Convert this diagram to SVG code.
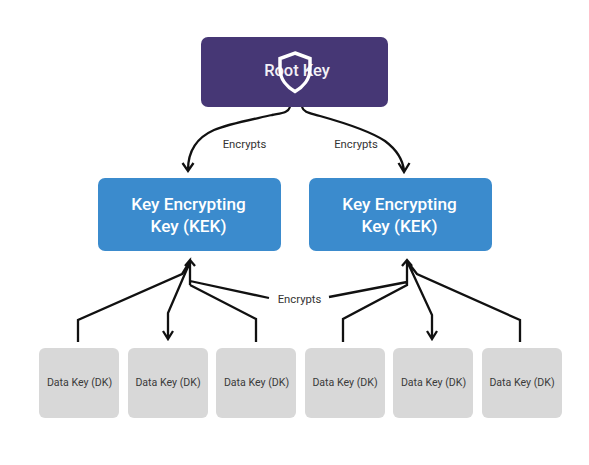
<svg xmlns="http://www.w3.org/2000/svg" width="589" height="465" viewBox="0 0 589 465">
<style>
text{font-family:Roboto,"Liberation Sans",sans-serif;text-anchor:middle}
.kek{fill:#3b8bcd}
.kt{fill:#fff;font-size:17.200px;font-weight:500}
.dk{fill:#d8d8d8}
.dt{fill:#3a3a3a;font-size:10.600px}
.c{fill:none;stroke:#111;stroke-width:2.300;stroke-linejoin:miter}
.l{fill:#333;font-size:11.300px}
</style>
<rect width="589" height="465" fill="#fff"/>
<g id="connectors">
<path class="c" d="M290 107C288 113 282 113 272 115C250 120 228 124 214 130C196 138 188 152 188 170M182.500 163L188 171L193.500 163"/>
<path class="c" d="M302 107C304 113 310 113 320 116C345 123 370 131 385 141C397 150 403 160 404 171M398.500 163L404 172L409.500 163"/>
<path class="c" d="M78 342V320L182 274L190 261V285M185 266L190 260L195 266M190 281L269 298M190 285L256 319V342M190 262L168 313V338M163 331L168 339L173 331"/>
<path class="c" d="M343 342V319L407 285V261M402 266L407 260L412 266M407 282L329 297M407 261L432 315V338M427 331L432 339L437 331M407 261L417 274L520 320V342"/>
</g>
<g id="root-key">
<rect x="201" y="37" width="187" height="70" rx="7" fill="#463775"/>
<text x="297" y="75.500" fill="#f2f0f6" font-size="16.500" font-weight="500">Root Key</text>
<path d="M295 53L310 58.500V69C310 79 303 87 295 91.500C287 87 280 79 280 69V58.500Z" fill="none" stroke="#fff" stroke-width="3.500"/>
</g>
<g id="kek-1">
<rect class="kek" x="98" y="178" width="183" height="73" rx="7"/>
<text class="kt" x="188.500" y="209.500">Key Encrypting</text>
<text class="kt" x="188.500" y="231.500">Key (KEK)</text>
</g>
<g id="kek-2">
<rect class="kek" x="309" y="178" width="183" height="73" rx="7"/>
<text class="kt" x="399.500" y="209.500">Key Encrypting</text>
<text class="kt" x="399.500" y="231.500">Key (KEK)</text>
</g>
<g id="dk-1"><rect class="dk" x="39" y="348" width="80" height="70" rx="6"/><text class="dt" x="79.500" y="386">Data Key (DK)</text></g>
<g id="dk-2"><rect class="dk" x="128" y="348" width="80" height="70" rx="6"/><text class="dt" x="168" y="386">Data Key (DK)</text></g>
<g id="dk-3"><rect class="dk" x="216" y="348" width="80" height="70" rx="6"/><text class="dt" x="256.500" y="386">Data Key (DK)</text></g>
<g id="dk-4"><rect class="dk" x="305" y="348" width="80" height="70" rx="6"/><text class="dt" x="345" y="386">Data Key (DK)</text></g>
<g id="dk-5"><rect class="dk" x="393" y="348" width="80" height="70" rx="6"/><text class="dt" x="433.500" y="386">Data Key (DK)</text></g>
<g id="dk-6"><rect class="dk" x="482" y="348" width="80" height="70" rx="6"/><text class="dt" x="522" y="386">Data Key (DK)</text></g>
<g id="labels">
<text class="l" x="244.500" y="147.500">Encrypts</text>
<text class="l" x="356" y="147.500">Encrypts</text>
<text class="l" x="299.500" y="302.500">Encrypts</text>
</g>
</svg>
